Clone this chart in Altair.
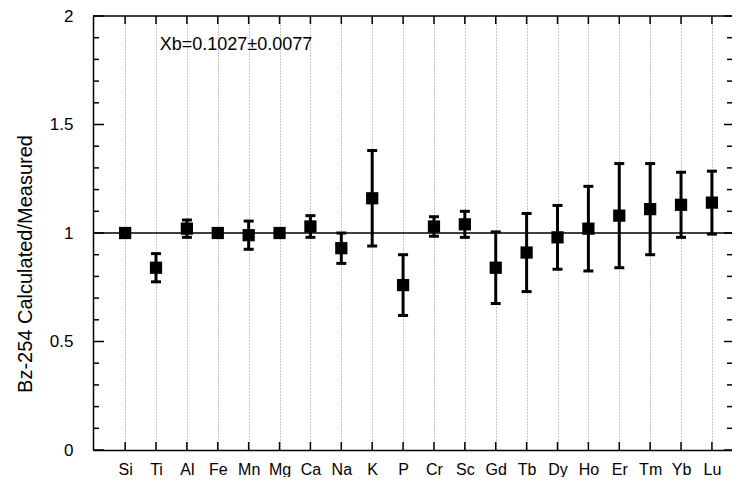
import altair as alt
import pandas as pd

# ---- data ----
elements = ["Si", "Ti", "Al", "Fe", "Mn", "Mg", "Ca", "Na", "K", "P",
            "Cr", "Sc", "Gd", "Tb", "Dy", "Ho", "Er", "Tm", "Yb", "Lu"]
ratio = [1.00, 0.84, 1.02, 1.00, 0.99, 1.00, 1.03, 0.93, 1.16, 0.76,
         1.03, 1.04, 0.84, 0.91, 0.98, 1.02, 1.08, 1.11, 1.13, 1.14]
err = [0.01, 0.065, 0.04, 0.008, 0.065, 0.01, 0.05, 0.07, 0.22, 0.14,
       0.045, 0.06, 0.165, 0.18, 0.147, 0.195, 0.24, 0.21, 0.15, 0.145]

y_major = [0, 0.5, 1, 1.5, 2]
y_minor = [0.1, 0.2, 0.3, 0.4, 0.6, 0.7, 0.8, 0.9, 1.1, 1.2, 1.3, 1.4,
           1.6, 1.7, 1.8, 1.9]
annotation = "Xb=0.1027\u00b10.0077"
y_title = "Bz-254 Calculated/Measured"
reference_level = 1

# ---- layout ----
FONT = "Liberation Sans"
W, H = 639, 434

pos = list(range(1, len(elements) + 1))
df = pd.DataFrame({
    "pos": pos,
    "el": elements,
    "ratio": ratio,
    "lo": [r - e for r, e in zip(ratio, err)],
    "hi": [r + e for r, e in zip(ratio, err)],
})
major_df = pd.DataFrame({"v": y_major})
minor_df = pd.DataFrame({"v": y_minor})

xscale = alt.Scale(domain=[-0.04, 20.65], nice=False, zero=False)
yscale = alt.Scale(domain=[0, 2], nice=False, zero=False)

label_expr = "[" + ",".join(f"'{e}'" for e in elements) + "][datum.value - 1]"

x_axis = alt.Axis(values=pos, labelExpr=label_expr, title=None,
                  grid=True, gridDash=[1, 2], gridColor="#8a8a8a", gridWidth=1,
                  ticks=False, domain=True, domainColor="black", domainWidth=1.5,
                  labelFont=FONT, labelFontSize=16, labelColor="black",
                  labelPadding=11, labelFlush=False, labelOverlap=False)
y_axis = alt.Axis(values=y_major, format="~g", title=None, grid=False,
                  ticks=False, domain=True, domainColor="black", domainWidth=1.5,
                  labelFont=FONT, labelFontSize=17, labelColor="black",
                  labelPadding=20, labelFlush=False, labelOverlap=False)


def X(field):
    return alt.X(field, scale=xscale, axis=x_axis)


def Y(field):
    return alt.Y(field, scale=yscale, axis=y_axis)


base = alt.Chart(df)
RULE = dict(color="black", strokeWidth=1.5)

level = alt.Chart(pd.DataFrame({"v": [reference_level]})).mark_rule(**RULE).encode(
    y=Y("v:Q"))
top_line = alt.Chart(pd.DataFrame({"v": [2]})).mark_rule(**RULE).encode(
    y=Y("v:Q"))

# inward ticks
left_minor = alt.Chart(minor_df).mark_rule(**RULE).encode(
    y=Y("v:Q"), x=alt.value(0), x2=alt.value(6))
left_major = alt.Chart(major_df).mark_rule(**RULE).encode(
    y=Y("v:Q"), x=alt.value(0), x2=alt.value(11))
right_minor = alt.Chart(minor_df).mark_rule(**RULE).encode(
    y=Y("v:Q"), x=alt.value(W), x2=alt.value(W - 5))
right_major = alt.Chart(major_df).mark_rule(**RULE).encode(
    y=Y("v:Q"), x=alt.value(W), x2=alt.value(W - 8))
top_ticks = base.mark_rule(**RULE).encode(
    x=X("pos:Q"), y=alt.value(0), y2=alt.value(8))
bottom_ticks = base.mark_rule(**RULE).encode(
    x=X("pos:Q"), y=alt.value(H), y2=alt.value(H - 8))

# error bars
bars = base.mark_rule(color="black", strokeWidth=3).encode(
    x=X("pos:Q"), y=Y("lo:Q"), y2="hi:Q")
cap_lo = base.mark_tick(orient="horizontal", color="black", size=10,
                        thickness=3, opacity=1).encode(x=X("pos:Q"), y=Y("lo:Q"))
cap_hi = base.mark_tick(orient="horizontal", color="black", size=10,
                        thickness=3, opacity=1).encode(x=X("pos:Q"), y=Y("hi:Q"))
squares = base.mark_square(size=150, color="black", filled=True, opacity=1).encode(
    x=X("pos:Q"), y=Y("ratio:Q"))

note = alt.Chart(pd.DataFrame({"t": [annotation]})).mark_text(
    font=FONT, fontSize=18, color="black", align="center", baseline="middle").encode(
    text="t:N", x=alt.value(143), y=alt.value(29))
ytitle = alt.Chart(pd.DataFrame({"t": [y_title]})).mark_text(
    font=FONT, fontSize=20, color="black", align="center", baseline="middle",
    angle=270).encode(
    text="t:N", x=alt.value(-67), y=alt.value(248))

chart = alt.layer(
    level, top_line, left_minor, left_major, right_minor, right_major,
    top_ticks, bottom_ticks, bars, cap_lo, cap_hi, squares, note, ytitle
).properties(
    width=W, height=H,
    autosize=alt.AutoSizeParams(type="none"),
    padding={"left": 85, "top": 8, "right": 0, "bottom": 27},
    background="white",
).configure_view(stroke=None)

chart.save("out.html", embed_options={"renderer": "svg", "actions": False})
